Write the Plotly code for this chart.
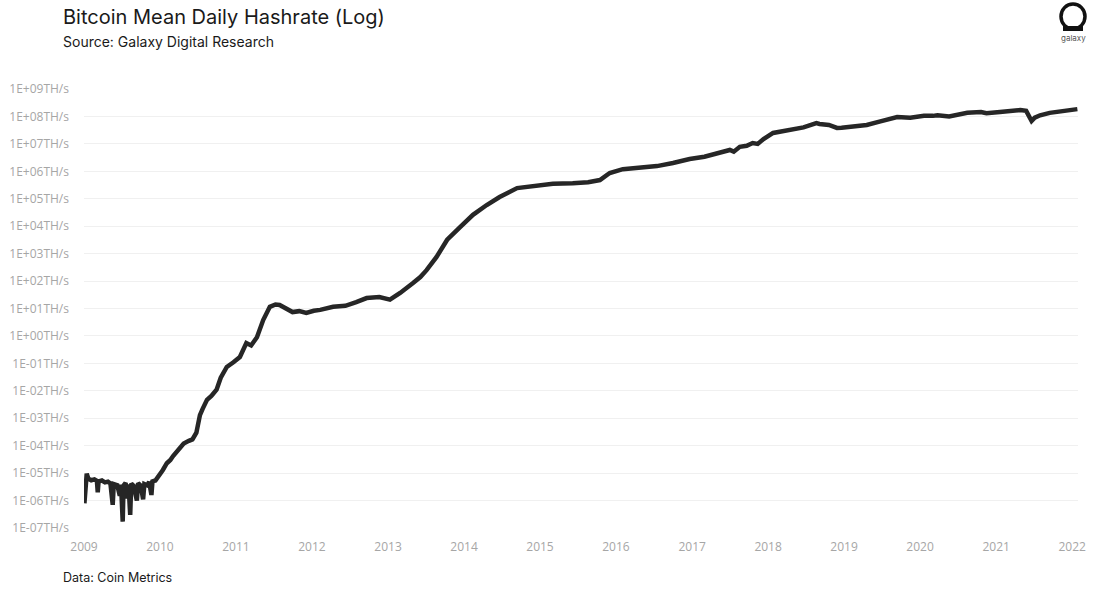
import plotly.graph_objects as go

# ---- data ----
dates = [
    "2009-01-03", "2009-01-09", "2009-01-14", "2009-01-22", "2009-02-05", "2009-02-20",
    "2009-03-04", "2009-03-08", "2009-03-12", "2009-03-28", "2009-04-12", "2009-04-26",
    "2009-05-08", "2009-05-19", "2009-05-24", "2009-06-10", "2009-06-22", "2009-06-28",
    "2009-07-06", "2009-07-10", "2009-07-20", "2009-07-28", "2009-08-03", "2009-08-11",
    "2009-08-16", "2009-08-28", "2009-09-12", "2009-09-18", "2009-10-01", "2009-10-12",
    "2009-10-18", "2009-11-01", "2009-11-10", "2009-11-21", "2009-11-26", "2009-12-10",
    "2009-12-30", "2010-01-15", "2010-02-03", "2010-02-20", "2010-03-05", "2010-04-05",
    "2010-04-25", "2010-05-20", "2010-06-06", "2010-06-25", "2010-07-12", "2010-07-25",
    "2010-08-15", "2010-09-05", "2010-09-30", "2010-10-20", "2010-11-18", "2010-12-20",
    "2011-01-20", "2011-02-20", "2011-03-15", "2011-04-12", "2011-05-12", "2011-06-13",
    "2011-07-10", "2011-07-30", "2011-08-30", "2011-09-30", "2011-11-01", "2011-12-05",
    "2012-01-10", "2012-02-10", "2012-04-12", "2012-06-10", "2012-08-01", "2012-09-20",
    "2012-11-20", "2012-12-20", "2013-01-10", "2013-02-28", "2013-04-01", "2013-05-01",
    "2013-06-05", "2013-07-05", "2013-08-22", "2013-10-12", "2013-12-13", "2014-02-13",
    "2014-04-20", "2014-06-21", "2014-09-13", "2014-11-28", "2015-03-04", "2015-06-07",
    "2015-08-20", "2015-10-16", "2015-12-02", "2016-02-03", "2016-04-20", "2016-07-16",
    "2016-10-01", "2016-12-20", "2017-03-01", "2017-05-01", "2017-07-01", "2017-07-20",
    "2017-08-18", "2017-09-20", "2017-10-19", "2017-11-12", "2017-12-10", "2018-01-25",
    "2018-04-30", "2018-06-20", "2018-08-21", "2018-09-05", "2018-10-20", "2018-11-28",
    "2018-12-20", "2019-02-15", "2019-04-20", "2019-06-20", "2019-09-13", "2019-11-15",
    "2020-01-20", "2020-03-03", "2020-03-25", "2020-05-20", "2020-08-15", "2020-10-20",
    "2020-11-15", "2021-01-19", "2021-03-01", "2021-04-27", "2021-05-25", "2021-06-20",
    "2021-07-05", "2021-07-31", "2021-09-15", "2021-11-15", "2021-12-20", "2022-01-26",
]
hashrate_ths = [
    8.0e-7, 6.5e-6, 9.5e-6, 6.3e-6, 5.5e-6, 5.9e-6,
    5.2e-6, 2.0e-6, 5.0e-6, 5.4e-6, 4.6e-6, 4.9e-6,
    4.2e-6, 7.0e-7, 4.0e-6, 3.6e-6, 1.5e-6, 3.8e-6,
    1.7e-7, 3.5e-6, 4.4e-6, 1.2e-6, 3.9e-6, 3.0e-7,
    4.2e-6, 3.4e-6, 1.0e-6, 4.3e-6, 3.5e-6, 1.1e-6,
    4.0e-6, 3.6e-6, 4.8e-6, 1.6e-6, 5.0e-6, 5.4e-6,
    8.5e-6, 1.3e-5, 2.3e-5, 3.0e-5, 4.2e-5, 8.3e-5,
    1.2e-4, 1.5e-4, 1.7e-4, 3.0e-4, 1.3e-3, 2.2e-3,
    4.7e-3, 6.5e-3, 1.1e-2, 3.0e-2, 7.4e-2, 1.1e-1,
    0.17, 0.55, 0.45, 0.9, 3.8, 11.5,
    14.0, 13.5, 10.5, 7.4, 8.0, 6.9,
    8.3, 8.9, 11.5, 12.5, 17.0, 24.0,
    26.0, 24.0, 21.0, 37.0, 55.0, 85.0,
    140.0, 250.0, 760.0, 3200.0, 9300.0, 26000.0,
    59000.0, 115000.0, 245000.0, 290000.0, 350000.0, 370000.0,
    400000.0, 480000.0, 870000.0, 1.2e6, 1.35e6, 1.55e6,
    2.0e6, 2.8e6, 3.4e6, 4.7e6, 6.0e6, 5.2e6,
    7.8e6, 8.5e6, 1.07e7, 1.0e7, 1.5e7, 2.5e7,
    3.2e7, 4.0e7, 5.7e7, 5.3e7, 4.9e7, 3.8e7,
    3.9e7, 4.2e7, 4.9e7, 6.5e7, 9.5e7, 9.0e7,
    1.05e8, 1.05e8, 1.1e8, 1.0e8, 1.35e8, 1.45e8,
    1.3e8, 1.45e8, 1.55e8, 1.7e8, 1.6e8, 6.8e7,
    9.0e7, 1.1e8, 1.35e8, 1.55e8, 1.7e8, 1.85e8,
]

y_tickvals = [1e-7, 1e-6, 1e-5, 1e-4, 1e-3, 1e-2, 1e-1, 1e0,
              1e1, 1e2, 1e3, 1e4, 1e5, 1e6, 1e7, 1e8, 1e9]
y_ticktext = ["1E-07TH/s", "1E-06TH/s", "1E-05TH/s", "1E-04TH/s", "1E-03TH/s",
              "1E-02TH/s", "1E-01TH/s", "1E+00TH/s", "1E+01TH/s", "1E+02TH/s",
              "1E+03TH/s", "1E+04TH/s", "1E+05TH/s", "1E+06TH/s", "1E+07TH/s",
              "1E+08TH/s", "1E+09TH/s"]
x_tickvals = ["%d-01-01" % y for y in range(2009, 2023)]
x_ticktext = [str(y) for y in range(2009, 2023)]

# ---- layout geometry (pixels) ----
W, H = 1100, 594
L, R, T, B = 84, 22, 89, 66
PW, PH = W - L - R, H - T - B


def px_x(x):
    return (x - L) / PW


def px_y(y):
    return (H - B - y) / PH


fig = go.Figure()
fig.add_trace(go.Scatter(
    x=dates, y=hashrate_ths, mode="lines",
    line=dict(color="#262626", width=4.5),
    hoverinfo="skip", showlegend=False,
))

tick_font = dict(family="Open Sans", size=12, color="#a6a6a6")

fig.update_layout(
    width=W, height=H,
    margin=dict(l=L, r=R, t=T, b=B, autoexpand=False),
    paper_bgcolor="white", plot_bgcolor="white",
    xaxis=dict(
        type="date", range=["2009-01-01", "2022-01-29"],
        tickvals=x_tickvals, ticktext=x_ticktext,
        showgrid=False, zeroline=False, showline=False, ticks="",
        tickfont=tick_font, ticklabelstandoff=10, automargin=False,
    ),
    yaxis=dict(
        type="log", range=[-7, 9],
        tickvals=y_tickvals, ticktext=y_ticktext,
        showgrid=True, gridcolor="#f0f0f0", gridwidth=1,
        zeroline=False, showline=False, ticks="",
        tickfont=tick_font, ticklabelstandoff=14, automargin=False,
    ),
    annotations=[
        dict(text="Bitcoin Mean Daily Hashrate (Log)", x=px_x(61), y=px_y(17),
             xref="paper", yref="paper", xanchor="left", yanchor="middle",
             showarrow=False, font=dict(family="Inter", size=20, color="#1a1a1a", weight=400)),
        dict(text="Source: Galaxy Digital Research", x=px_x(61), y=px_y(41),
             xref="paper", yref="paper", xanchor="left", yanchor="middle",
             showarrow=False, font=dict(family="Inter", size=14, color="#1a1a1a", weight=400)),
        dict(text="Data: Coin Metrics", x=px_x(61), y=px_y(577),
             xref="paper", yref="paper", xanchor="left", yanchor="middle",
             showarrow=False, font=dict(family="Inter", size=12.5, color="#1a1a1a", weight=400)),
        dict(text="galaxy", x=px_x(1073), y=px_y(38),
             xref="paper", yref="paper", xanchor="center", yanchor="middle",
             showarrow=False, font=dict(family="Inter", size=8, color="#555555")),
    ],
    shapes=[
        dict(type="circle", xref="paper", yref="paper",
             x0=px_x(1061), x1=px_x(1085), y0=px_y(29), y1=px_y(4),
             line=dict(color="#111111", width=3.5), fillcolor="rgba(0,0,0,0)"),
        dict(type="rect", xref="paper", yref="paper",
             x0=px_x(1063), x1=px_x(1083), y0=px_y(31), y1=px_y(26),
             line=dict(width=0), fillcolor="#111111"),
    ],
)

fig.write_html("out.html")
